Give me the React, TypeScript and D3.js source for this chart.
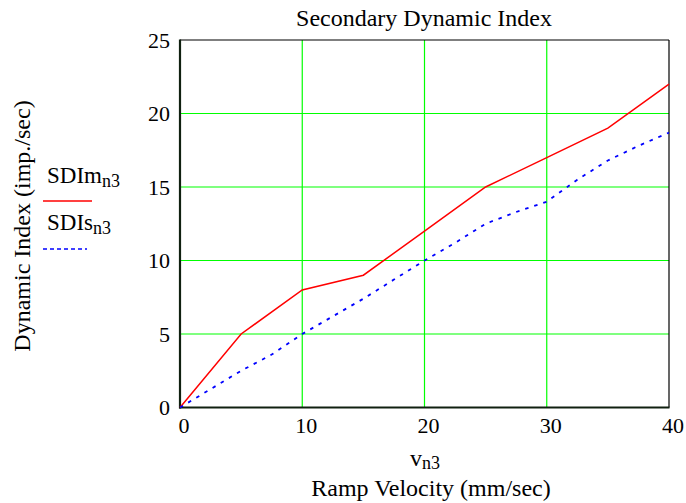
import React from "react";
import * as d3 from "d3";

const xTicks = [0, 10, 20, 30, 40];
const yTicks = [0, 5, 10, 15, 20, 25];
const xGrid = [10, 20, 30];
const yGrid = [5, 10, 15, 20];

const sdimX = [0, 5, 10, 15, 20, 25, 30, 35, 40];
const sdimY = [0, 5, 8, 9, 12, 15, 17, 19, 22];

const sdisX = [0, 2.5, 5, 7.5, 10, 12.5, 15, 17.5, 20, 22.5, 25, 27.5, 30, 32.5, 35, 37.5, 40];
const sdisY = [0, 1.25, 2.5, 3.6, 5, 6.2, 7.4, 8.7, 10, 11.2, 12.5, 13.3, 14, 15.5, 16.8, 17.8, 18.7];

const W = 686;
const H = 503;
const L = 180;
const R = 669;
const T = 40;
const B = 407.5;

export default function App() {
  const x = d3.scaleLinear().domain([0, 40]).range([L, R]);
  const y = d3.scaleLinear().domain([0, 25]).range([B, T]);
  const line = d3
    .line<[number, number]>()
    .x((d) => x(d[0]))
    .y((d) => y(d[1]));
  const red = line(sdimX.map((v, i) => [v, sdimY[i]]) as [number, number][]) || "";
  const blue = line(sdisX.map((v, i) => [v, sdisY[i]]) as [number, number][]) || "";
  const font = "'Liberation Serif', 'Times New Roman', serif";
  return (
    <svg
      width={W}
      height={H}
      style={{ position: "absolute", left: 0, top: 0, background: "#fff" }}
      fontFamily={font}
    >
      <rect x={0} y={0} width={W} height={H} fill="#fff" />
      {xGrid.map((v) => (
        <line key={"gx" + v} x1={x(v)} x2={x(v)} y1={T} y2={B} stroke="#00ff00" strokeWidth={1.2} />
      ))}
      {yGrid.map((v) => (
        <line key={"gy" + v} x1={L} x2={R} y1={y(v)} y2={y(v)} stroke="#00ff00" strokeWidth={1.2} />
      ))}
      <line x1={L} x2={R} y1={T} y2={T} stroke="#000" strokeWidth={1.2} />
      <line x1={R} x2={R} y1={T} y2={B} stroke="#000" strokeWidth={1.2} />
      <line x1={L} x2={L} y1={T - 0.5} y2={B + 1} stroke="#102010" strokeWidth={2.2} />
      <line x1={L - 1} x2={R + 0.5} y1={B} y2={B} stroke="#102010" strokeWidth={2} />
      <path d={red} fill="none" stroke="#ff0000" strokeWidth={1.5} />
      <path d={blue} fill="none" stroke="#0000ff" strokeWidth={1.8} strokeDasharray="3.5 6" />
      {yTicks.map((v) => (
        <text key={"ty" + v} x={L - 10} y={y(v) + 7.5} fontSize={22} textAnchor="end" fill="#000">
          {v}
        </text>
      ))}
      {xTicks.map((v) => (
        <text key={"tx" + v} x={x(v) + 4} y={433} fontSize={22} textAnchor="middle" fill="#000">
          {v}
        </text>
      ))}
      <text x={424} y={26} fontSize={24} textAnchor="middle" fill="#000">
        Secondary Dynamic Index
      </text>
      <text x={425} y={466} fontSize={24} textAnchor="middle" fill="#000">
        v<tspan fontSize={18} dy={3}>n3</tspan>
      </text>
      <text x={431} y={496} fontSize={24} textAnchor="middle" fill="#000">
        Ramp Velocity (mm/sec)
      </text>
      <text
        transform={`translate(30, ${226}) rotate(-90)`}
        fontSize={24}
        textAnchor="middle"
        fill="#000"
      >
        Dynamic Index (imp./sec)
      </text>
      <text x={47} y={183} fontSize={23} fill="#000">
        SDIm<tspan fontSize={18} dy={4}>n3</tspan>
      </text>
      <line x1={43} x2={92} y1={201} y2={201} stroke="#ff0000" strokeWidth={1.5} />
      <text x={47} y={230} fontSize={23} fill="#000">
        SDIs<tspan fontSize={18} dy={4}>n3</tspan>
      </text>
      <line x1={43} x2={87} y1={249} y2={249} stroke="#0000ff" strokeWidth={1.5} strokeDasharray="4 3" />
    </svg>
  );
}
